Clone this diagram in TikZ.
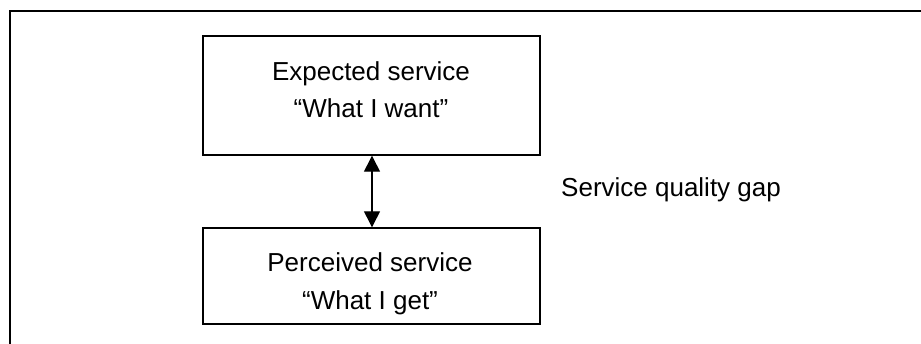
\documentclass[tikz,border=0pt]{standalone}
\usepackage{fontspec}
\setmainfont{Liberation Sans}
\usetikzlibrary{arrows.meta}
\tikzset{
  boxstyle/.style={draw=black, line width=1.4pt, rectangle, inner sep=0pt},
  txt/.style={font=\fontsize{26}{30}\selectfont, inner sep=0pt, anchor=base},
  gaparrow/.style={line width=1.3pt, {Triangle[width=16pt,length=16pt]}-{Triangle[width=16pt,length=16pt]}}
}
\begin{document}
\begin{tikzpicture}[x=1pt,y=-1pt]
\useasboundingbox (0,0) rectangle (921,344);
\begin{scope}
\clip (0,0) rectangle (921,344);
\draw[line width=1.6pt] (10,11) rectangle (940,370);
\end{scope}
\node[boxstyle, minimum width=337pt, minimum height=119pt] (expected) at (371.5,95.5) {};
\node[boxstyle, minimum width=337pt, minimum height=96pt] (perceived) at (371.5,276) {};
\node[txt] (e1) at (371,81) {Expected service};
\node[txt] (e2) at (371,118) {“What I want”};
\node[txt] (p1) at (370,271.5) {Perceived service};
\node[txt] (p2) at (370,310) {“What I get”};
\draw[gaparrow] (expected.south -| 372,0) -- (perceived.north -| 372,0);
\node[txt, anchor=base west] (gap) at (561,197) {Service quality gap};
\end{tikzpicture}
\end{document}
